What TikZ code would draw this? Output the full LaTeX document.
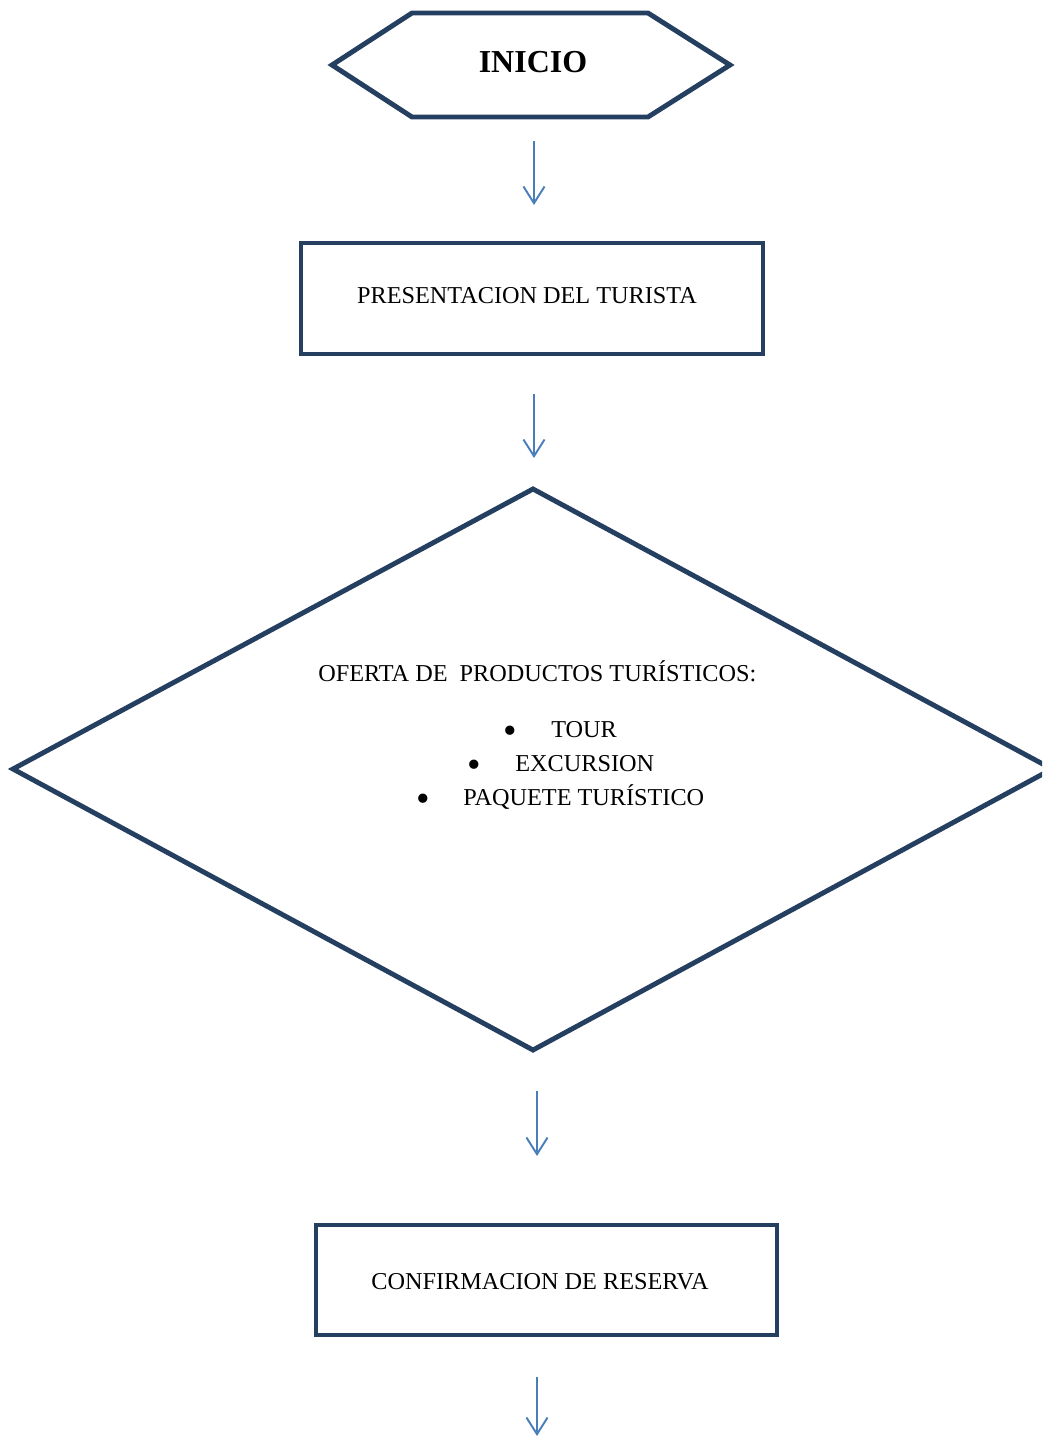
\documentclass[tikz,border=0pt]{standalone}
\usepackage{fontspec}
\setmainfont{Liberation Serif}
\usetikzlibrary{arrows.meta}
\definecolor{navy}{HTML}{243F60}
\definecolor{arrblue}{HTML}{4A7EBB}
\tikzset{
  shapeline/.style={draw=navy, line width=2.8pt, line join=miter},
  flowarrow/.style={draw=arrblue, line width=1.1pt, -{Straight Barb[length=9.5pt,width=12pt,line width=1.1pt]}},
  lbl/.style={inner sep=0pt, font=\fontsize{13.8}{16}\selectfont},
  bul/.style={inner sep=0pt, font=\fontsize{22}{22}\selectfont},
}
\begin{document}
\begin{tikzpicture}[x=0.02cm, y=-0.02cm]
\useasboundingbox (0,0) rectangle (1042,1437);
\clip (0,0) rectangle (1042,1437);
% hexagon INICIO
\draw[shapeline] (332,65) -- (412,13) -- (648,13) -- (730,65) -- (648,117) -- (412,117) -- cycle;
\node[inner sep=0pt, font=\fontsize{18.2}{20}\selectfont\bfseries] (inicio) at (533,62) {INICIO};
% box 1
\node[shapeline, minimum width=462*0.02cm, minimum height=111*0.02cm] (pres) at (532,298.5) {};
\node[lbl] (prestxt) at (527,296) {PRESENTACION DEL TURISTA};
% diamond
\draw[shapeline] (533,489) -- (1052,769) -- (533,1050) -- (13,769) -- cycle;
\node[lbl, anchor=base west] (oferta) at (318,681) {OFERTA DE \ PRODUCTOS TURÍSTICOS:};
\node[lbl, anchor=base west] (tour) at (551,737) {TOUR};
\node[lbl, anchor=base west] (exc) at (515,771) {EXCURSION};
\node[lbl, anchor=base west] (paq) at (463,805) {PAQUETE TURÍSTICO};
\node[bul, anchor=center] (b1) at (510,735) {\textbullet};
\node[bul, anchor=center] (b2) at (474,769) {\textbullet};
\node[bul, anchor=center] (b3) at (423,803) {\textbullet};
% box 2
\node[shapeline, minimum width=461*0.02cm, minimum height=110*0.02cm] (conf) at (546.5,1280) {};
\node[lbl] (conftxt) at (540,1282) {CONFIRMACION DE RESERVA};
% arrows
\coordinate (a1s) at (534,141); \coordinate (a1e) at (534,205);
\coordinate (a2s) at (534,394); \coordinate (a2e) at (534,458);
\coordinate (a3s) at (537,1091); \coordinate (a3e) at (537,1156);
\coordinate (a4s) at (537,1377); \coordinate (a4e) at (537,1436);
\draw[flowarrow] (a1s) -- (a1e);
\draw[flowarrow] (a2s) -- (a2e);
\draw[flowarrow] (a3s) -- (a3e);
\draw[flowarrow] (a4s) -- (a4e);
\end{tikzpicture}
\end{document}
